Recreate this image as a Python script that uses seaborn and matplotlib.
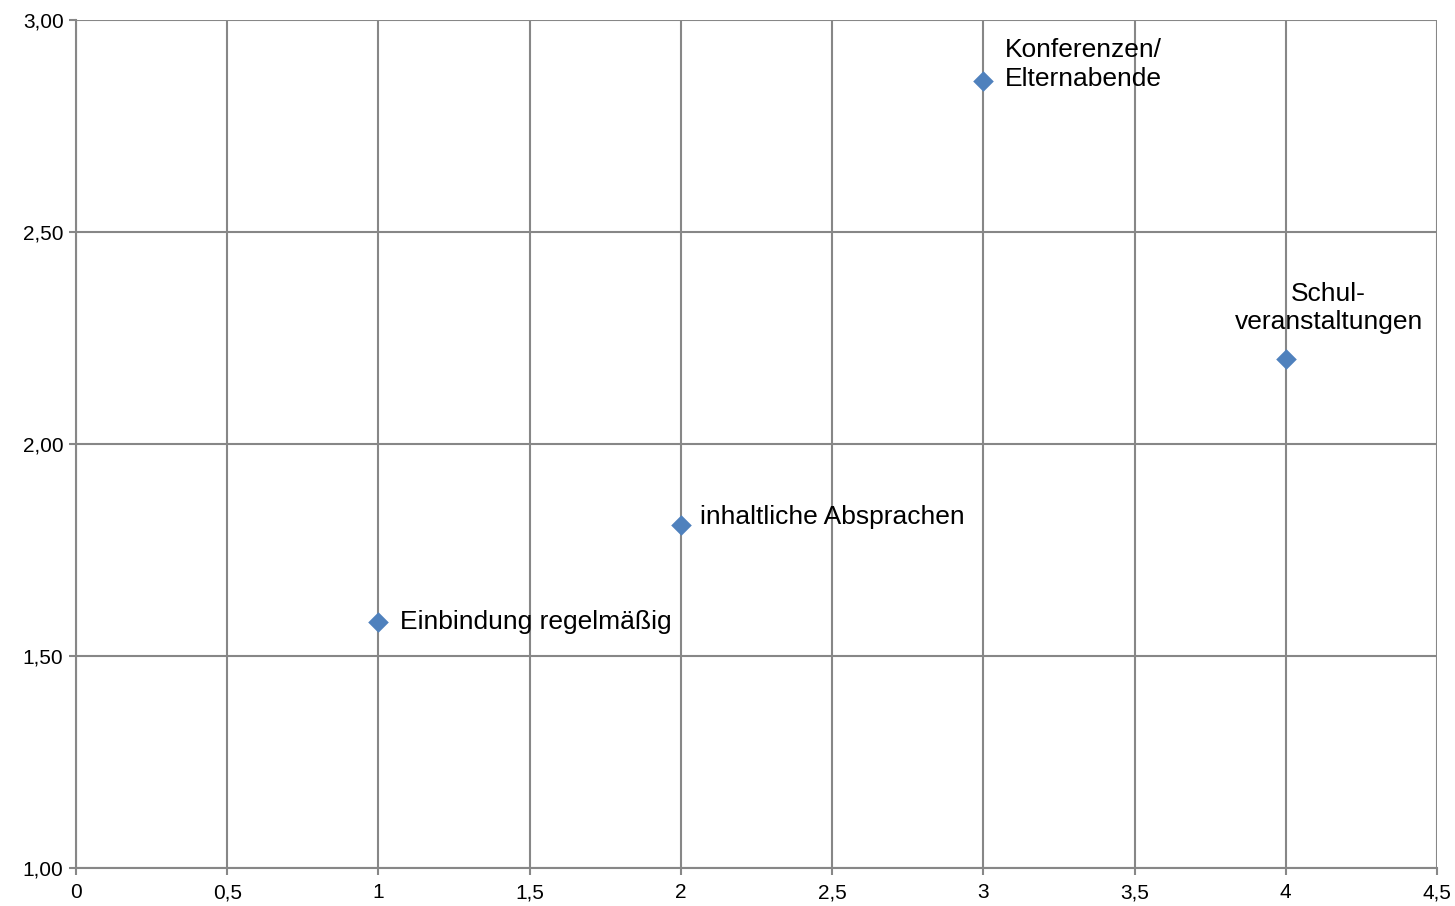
import matplotlib
matplotlib.use("Agg")
import matplotlib.pyplot as plt
import seaborn as sns
import pandas as pd
from matplotlib.ticker import FuncFormatter, MultipleLocator

# Data
x_values = [1, 2, 3, 4]
y_values = [1.58, 1.81, 2.855, 2.20]
point_labels = ["Einbindung regelmäßig", "inhaltliche Absprachen",
                "Konferenzen/\nElternabende", "Schul-\nveranstaltungen"]

sns.set_theme(style="white")
plt.rcParams['font.family'] = ['Liberation Sans', 'DejaVu Sans']

fig = plt.figure(figsize=(14.55, 9.06), dpi=100)
ax = fig.add_axes([76/1455, 1 - 868/906, (1437-76)/1455, (868-20)/906])

df = pd.DataFrame({"x": x_values, "y": y_values, "label": point_labels})
sns.scatterplot(data=df, x="x", y="y", marker="D", color="#4F81BD", s=110,
                linewidth=0, ax=ax, zorder=5, clip_on=False)

ax.set_xlim(0, 4.5)
ax.set_ylim(1.0, 3.0)
ax.xaxis.set_major_locator(MultipleLocator(0.5))
ax.yaxis.set_major_locator(MultipleLocator(0.5))

def fmt_x(v, pos):
    s = f"{v:g}"
    return s.replace(".", ",")

def fmt_y(v, pos):
    return f"{v:.2f}".replace(".", ",")

ax.xaxis.set_major_formatter(FuncFormatter(fmt_x))
ax.yaxis.set_major_formatter(FuncFormatter(fmt_y))

gridc = "#878787"
ax.grid(True, color=gridc, linewidth=1.5)
ax.set_axisbelow(True)
for side in ["top", "right"]:
    ax.spines[side].set_visible(False)
for side in ["left", "bottom"]:
    ax.spines[side].set_color(gridc)
    ax.spines[side].set_linewidth(1.5)
ax.tick_params(axis="both", which="both", direction="out", length=5, width=1.5,
               color=gridc, labelsize=15, labelcolor="black", pad=4,
               left=True, bottom=True)
ax.tick_params(axis="x", pad=6)
ax.set_xlabel("")
ax.set_ylabel("")

# label offsets in pixels (style only)
offsets = [(22, 0, "left", "center"), (19, 8, "left", "center"),
           (22, 17, "left", "center"), (43, 51, "center", "center")]
for xv, yv, lab, (dx, dy, ha, va) in zip(x_values, y_values, point_labels, offsets):
    ax.annotate(lab, (xv, yv), xytext=(dx, dy), textcoords="offset pixels",
                ha=ha, va=va, fontsize=19, color="black", linespacing=1.22,
                zorder=6)

fig.savefig("out.png", dpi=100)
